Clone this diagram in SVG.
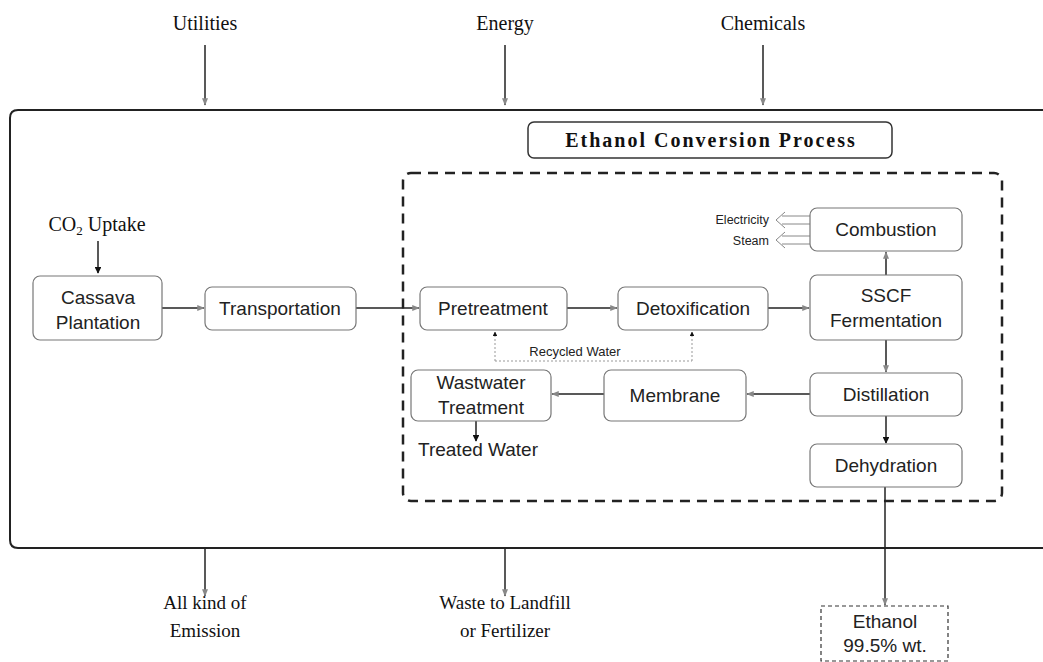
<svg xmlns="http://www.w3.org/2000/svg" width="1043" height="662" viewBox="0 0 1043 662">
<style>
.serif{font-family:"Liberation Serif","Times New Roman",serif;fill:#111}
.sans{font-family:"Liberation Sans",Arial,sans-serif;fill:#222}
.node{fill:#fff;stroke:#777;stroke-width:1.2}
.conn{stroke:#222;stroke-width:1.5;fill:none}
.dot{stroke:#999;stroke-width:1;stroke-dasharray:2,2;fill:none}
</style>
<defs>
<marker id="a" viewBox="0 0 10 10" refX="9" refY="5" markerWidth="5" markerHeight="5" orient="auto"><path d="M0,1 L10,5 L0,9 z" fill="#888"/></marker>
<marker id="b" viewBox="0 0 10 10" refX="9" refY="5" markerWidth="4.5" markerHeight="4.5" orient="auto"><path d="M0,0 L10,5 L0,10 z" fill="#111"/></marker>
</defs>
<rect width="1043" height="662" fill="#fff"/>
<g id="outer"><path d="M1043,110 L18,110 Q10,110 10,118 L10,540 Q10,548 18,548 L1043,548" fill="none" stroke="#222" stroke-width="2"/></g>
<g id="process-area"><rect x="403" y="173" width="599" height="328" rx="8" fill="none" stroke="#222" stroke-width="2.5" stroke-dasharray="10,7"/></g>
<g id="title"><rect x="528" y="122" width="364" height="36" rx="6" fill="#fff" stroke="#333" stroke-width="1.5"/><text x="711" y="147" text-anchor="middle" class="serif" font-size="20" font-weight="bold" letter-spacing="2">Ethanol Conversion Process</text></g>
<g id="connectors">
<line class="conn" x1="205" y1="45" x2="205" y2="105" marker-end="url(#a)"/>
<line class="conn" x1="505" y1="45" x2="505" y2="105" marker-end="url(#a)"/>
<line class="conn" x1="763" y1="45" x2="763" y2="105" marker-end="url(#a)"/>
<line class="conn" x1="205" y1="548" x2="205" y2="596" marker-end="url(#a)"/>
<line class="conn" x1="505" y1="548" x2="505" y2="596" marker-end="url(#a)"/>
<line class="conn" x1="98" y1="241" x2="98" y2="273" marker-end="url(#b)"/>
<line class="conn" x1="162" y1="308" x2="204" y2="308" marker-end="url(#a)"/>
<line class="conn" x1="356" y1="308" x2="419" y2="308" marker-end="url(#a)"/>
<line class="conn" x1="567" y1="308" x2="617" y2="308" marker-end="url(#a)"/>
<line class="conn" x1="768" y1="308" x2="809" y2="308" marker-end="url(#a)"/>
<line class="conn" x1="886" y1="275" x2="886" y2="252" marker-end="url(#a)"/>
<line class="conn" x1="886" y1="340" x2="886" y2="372" marker-end="url(#a)"/>
<line class="conn" x1="886" y1="416" x2="886" y2="443" marker-end="url(#b)"/>
<line class="conn" x1="810" y1="394" x2="747" y2="394" marker-end="url(#a)"/>
<line class="conn" x1="604" y1="394" x2="552" y2="394" marker-end="url(#a)"/>
<line class="conn" x1="476" y1="421" x2="476" y2="441" stroke-width="2" marker-end="url(#b)"/>
<line class="conn" x1="885" y1="487" x2="885" y2="605" marker-end="url(#a)"/>
<polyline class="dot" points="495,361 692,361"/>
<line class="dot" x1="495" y1="361" x2="495" y2="332" marker-end="url(#b)"/>
<line class="dot" x1="692" y1="361" x2="692" y2="332" marker-end="url(#b)"/>
<path d="M810,216 L782,216 M810,224 L782,224 M785,212 L776,220 L785,228" fill="none" stroke="#888" stroke-width="1"/>
<path d="M810,236 L782,236 M810,244 L782,244 M785,232 L776,240 L785,248" fill="none" stroke="#888" stroke-width="1"/>
</g>
<g id="labels-top">
<text x="205" y="30" text-anchor="middle" class="serif" font-size="20">Utilities</text>
<text x="505" y="30" text-anchor="middle" class="serif" font-size="20">Energy</text>
<text x="763" y="30" text-anchor="middle" class="serif" font-size="20">Chemicals</text>
</g>
<g id="labels-bottom">
<text x="205" y="609" text-anchor="middle" class="serif" font-size="19">All kind of</text>
<text x="205" y="637" text-anchor="middle" class="serif" font-size="19">Emission</text>
<text x="505" y="609" text-anchor="middle" class="serif" font-size="19">Waste to Landfill</text>
<text x="505" y="637" text-anchor="middle" class="serif" font-size="19">or Fertilizer</text>
</g>
<g id="co2"><text x="97" y="231" text-anchor="middle" class="serif" font-size="20">CO<tspan font-size="13" dy="4">2</tspan><tspan dy="-4"> Uptake</tspan></text></g>
<g id="cassava"><rect class="node" x="33" y="276" width="129" height="64" rx="7"/><text x="98" y="304" text-anchor="middle" class="sans" font-size="19">Cassava</text><text x="98" y="329" text-anchor="middle" class="sans" font-size="19">Plantation</text></g>
<g id="transportation"><rect class="node" x="205" y="287" width="151" height="43" rx="7"/><text x="280" y="315" text-anchor="middle" class="sans" font-size="19">Transportation</text></g>
<g id="pretreatment"><rect class="node" x="420" y="287" width="147" height="43" rx="7"/><text x="493" y="315" text-anchor="middle" class="sans" font-size="19">Pretreatment</text></g>
<g id="detoxification"><rect class="node" x="618" y="287" width="150" height="43" rx="7"/><text x="693" y="315" text-anchor="middle" class="sans" font-size="19">Detoxification</text></g>
<g id="combustion"><rect class="node" x="810" y="208" width="152" height="43" rx="7"/><text x="886" y="236" text-anchor="middle" class="sans" font-size="19">Combustion</text></g>
<g id="sscf"><rect class="node" x="810" y="275" width="152" height="65" rx="7"/><text x="886" y="302" text-anchor="middle" class="sans" font-size="19">SSCF</text><text x="886" y="327" text-anchor="middle" class="sans" font-size="19">Fermentation</text></g>
<g id="distillation"><rect class="node" x="810" y="373" width="152" height="43" rx="7"/><text x="886" y="401" text-anchor="middle" class="sans" font-size="19">Distillation</text></g>
<g id="dehydration"><rect class="node" x="810" y="444" width="152" height="43" rx="7"/><text x="886" y="472" text-anchor="middle" class="sans" font-size="19">Dehydration</text></g>
<g id="membrane"><rect class="node" x="604" y="370" width="142" height="51" rx="7"/><text x="675" y="402" text-anchor="middle" class="sans" font-size="19">Membrane</text></g>
<g id="wastewater"><rect class="node" x="411" y="370" width="140" height="51" rx="7"/><text x="481" y="389" text-anchor="middle" class="sans" font-size="19">Wastwater</text><text x="481" y="414" text-anchor="middle" class="sans" font-size="19">Treatment</text></g>
<g id="treated-water"><text x="478" y="456" text-anchor="middle" class="sans" font-size="19">Treated Water</text></g>
<g id="recycled-water"><text x="575" y="356" text-anchor="middle" class="sans" font-size="13">Recycled Water</text></g>
<g id="outputs-combustion"><text x="769" y="224" text-anchor="end" class="sans" font-size="12.5">Electricity</text><text x="769" y="245" text-anchor="end" class="sans" font-size="12.5">Steam</text></g>
<g id="ethanol"><rect x="821" y="606" width="127" height="55" fill="#fff" stroke="#333" stroke-width="1.2" stroke-dasharray="4,3"/><text x="885" y="628" text-anchor="middle" class="sans" font-size="19">Ethanol</text><text x="885" y="652" text-anchor="middle" class="sans" font-size="19">99.5% wt.</text></g>
</svg>
